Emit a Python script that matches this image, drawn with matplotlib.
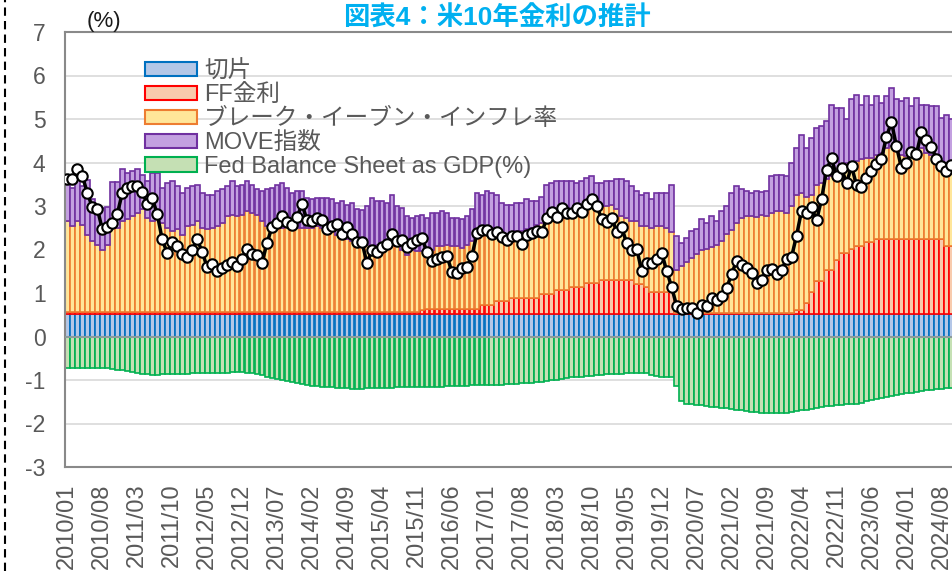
import numpy as np
import pandas as pd
import matplotlib
matplotlib.use('Agg')
import matplotlib.pyplot as plt
from matplotlib.patches import Patch
from matplotlib.lines import Line2D

plt.rcParams['font.family'] = ['Liberation Sans', 'Noto Sans CJK JP']
plt.rcParams['axes.unicode_minus'] = False

#############
# Data
#############
months = pd.period_range('2010-01', '2024-10', freq='M').strftime('%Y/%m').tolist()

# intercept (constant contribution)
intercept = 0.51

# FF rate contribution
ff = [
    0.05, 0.05, 0.05, 0.05, 0.05, 0.05, 0.05, 0.05, 0.05, 0.05, 0.05, 0.05,  # 2010
    0.05, 0.05, 0.05, 0.05, 0.05, 0.05, 0.05, 0.05, 0.05, 0.05, 0.05, 0.05,  # 2011
    0.05, 0.05, 0.05, 0.05, 0.05, 0.05, 0.05, 0.05, 0.05, 0.05, 0.05, 0.05,  # 2012
    0.05, 0.05, 0.05, 0.05, 0.05, 0.05, 0.05, 0.05, 0.05, 0.05, 0.05, 0.05,  # 2013
    0.05, 0.05, 0.05, 0.05, 0.05, 0.05, 0.05, 0.05, 0.05, 0.05, 0.05, 0.05,  # 2014
    0.05, 0.05, 0.05, 0.05, 0.05, 0.05, 0.05, 0.05, 0.05, 0.05, 0.05, 0.11,  # 2015
    0.12, 0.12, 0.12, 0.12, 0.12, 0.12, 0.12, 0.12, 0.12, 0.12, 0.12, 0.21,  # 2016
    0.21, 0.21, 0.30, 0.30, 0.30, 0.38, 0.38, 0.38, 0.38, 0.38, 0.38, 0.46,  # 2017
    0.46, 0.46, 0.55, 0.56, 0.56, 0.62, 0.62, 0.62, 0.71, 0.72, 0.72, 0.78,  # 2018
    0.78, 0.78, 0.78, 0.78, 0.78, 0.78, 0.70, 0.70, 0.62, 0.51, 0.51, 0.51,  # 2019
    0.51, 0.52, 0.03, 0.03, 0.03, 0.03, 0.03, 0.03, 0.03, 0.03, 0.03, 0.03,  # 2020
    0.03, 0.03, 0.03, 0.03, 0.03, 0.03, 0.03, 0.03, 0.03, 0.03, 0.03, 0.03,  # 2021
    0.03, 0.03, 0.11, 0.11, 0.27, 0.52, 0.76, 0.76, 1.01, 1.01, 1.25, 1.42,  # 2022
    1.42, 1.50, 1.58, 1.58, 1.66, 1.66, 1.74, 1.74, 1.74, 1.74, 1.74, 1.74,  # 2023
    1.74, 1.74, 1.74, 1.74, 1.74, 1.74, 1.74, 1.74, 1.58, 1.58,              # 2024
]

# break-even inflation contribution
bei = [
    2.09, 1.98, 2.09, 2.01, 1.78, 1.64, 1.54, 1.44, 1.54, 1.94, 1.94, 2.09,
    2.13, 2.21, 2.28, 2.36, 2.17, 2.09, 2.13, 2.05, 1.94, 1.86, 1.90, 1.78,
    1.98, 2.01, 2.09, 1.94, 1.90, 1.94, 1.98, 2.05, 2.21, 2.24, 2.21, 2.24,
    2.32, 2.28, 2.24, 2.09, 1.98, 1.86, 1.94, 1.94, 1.98, 1.94, 1.94, 1.94,
    1.94, 1.94, 1.98, 1.94, 1.86, 1.86, 1.78, 1.75, 1.67, 1.63, 1.57, 1.63,
    1.55, 1.52, 1.55, 1.59, 1.63, 1.59, 1.52, 1.44, 1.32, 1.44, 1.40, 1.34,
    1.33, 1.37, 1.45, 1.45, 1.48, 1.45, 1.45, 1.41, 1.48, 1.56, 1.79, 1.74,
    1.74, 1.78, 1.65, 1.61, 1.53, 1.45, 1.53, 1.53, 1.57, 1.61, 1.68, 1.64,
    1.80, 1.83, 1.78, 1.77, 1.77, 1.75, 1.79, 1.79, 1.74, 1.76, 1.69, 1.70,
    1.70, 1.74, 1.63, 1.48, 1.44, 1.36, 1.44, 1.33, 1.41, 1.48, 1.53, 1.53,
    1.48, 1.37, 0.98, 1.08, 1.18, 1.26, 1.36, 1.44, 1.48, 1.52, 1.56, 1.66,
    1.81, 1.91, 2.08, 2.18, 2.23, 2.23, 2.21, 2.26, 2.24, 2.31, 2.34, 2.34,
    2.31, 2.46, 2.64, 2.68, 2.42, 2.22, 2.22, 2.26, 2.09, 2.16, 2.08, 1.99,
    2.07, 1.99, 1.94, 1.98, 1.94, 1.94, 1.93, 1.97, 2.09, 2.12, 2.01, 1.93,
    1.90, 1.97, 2.01, 2.09, 1.97, 1.93, 1.86, 1.78, 1.83, 1.67,
]

# MOVE index contribution
move = [
    0.96, 0.88, 0.99, 0.89, 1.26, 0.95, 0.90, 0.95, 0.87, 1.05, 1.05, 1.19,
    1.07, 1.03, 1.00, 0.80, 0.84, 1.11, 1.07, 0.81, 1.03, 1.15, 1.00, 0.96,
    0.88, 0.89, 0.84, 0.80, 0.80, 0.76, 0.80, 0.77, 0.69, 0.77, 0.69, 0.69,
    0.69, 0.65, 0.58, 0.69, 0.84, 1.00, 0.99, 1.03, 0.88, 0.80, 0.84, 0.84,
    0.69, 0.65, 0.65, 0.69, 0.77, 0.73, 0.73, 0.80, 0.80, 0.88, 0.79, 0.71,
    0.88, 1.11, 1.00, 0.96, 0.88, 1.11, 0.91, 0.96, 0.89, 0.73, 0.81, 0.84,
    0.77, 0.84, 0.76, 0.80, 0.73, 0.65, 0.65, 0.65, 0.66, 0.73, 0.88, 0.80,
    0.88, 0.80, 0.80, 0.65, 0.69, 0.69, 0.65, 0.65, 0.69, 0.61, 0.54, 0.59,
    0.72, 0.73, 0.73, 0.73, 0.73, 0.69, 0.61, 0.65, 0.68, 0.69, 0.61, 0.54,
    0.58, 0.54, 0.69, 0.84, 0.84, 0.80, 0.70, 0.71, 0.76, 0.65, 0.75, 0.75,
    0.80, 1.09, 0.79, 0.54, 0.55, 0.62, 0.56, 0.71, 0.59, 0.71, 0.55, 0.68,
    0.64, 0.85, 0.84, 0.68, 0.58, 0.53, 0.60, 0.52, 0.57, 0.83, 0.84, 0.84,
    0.83, 0.99, 1.08, 1.34, 1.14, 1.32, 1.31, 1.31, 1.34, 1.65, 1.42, 1.34,
    0.99, 1.45, 1.53, 1.26, 1.41, 1.22, 1.34, 1.15, 1.18, 1.34, 1.19, 1.23,
    1.34, 1.07, 1.23, 0.99, 1.11, 1.11, 1.18, 1.00, 1.18, 1.24,
]

# Fed balance sheet / GDP contribution (negative)
fed_bs = [
    -0.72, -0.72, -0.72, -0.73, -0.73, -0.73, -0.72, -0.72, -0.73, -0.74, -0.76, -0.78,
    -0.80, -0.82, -0.84, -0.86, -0.87, -0.88, -0.88, -0.87, -0.87, -0.86, -0.87, -0.86,
    -0.86, -0.85, -0.85, -0.85, -0.84, -0.84, -0.84, -0.83, -0.83, -0.82, -0.82, -0.82,
    -0.83, -0.85, -0.87, -0.89, -0.92, -0.95, -0.98, -1.00, -1.02, -1.05, -1.07, -1.09,
    -1.11, -1.13, -1.14, -1.15, -1.16, -1.17, -1.18, -1.19, -1.19, -1.20, -1.20, -1.20,
    -1.19, -1.19, -1.18, -1.18, -1.18, -1.18, -1.17, -1.17, -1.16, -1.16, -1.16, -1.16,
    -1.16, -1.15, -1.15, -1.15, -1.14, -1.14, -1.13, -1.13, -1.13, -1.12, -1.12, -1.12,
    -1.11, -1.11, -1.11, -1.11, -1.10, -1.10, -1.09, -1.08, -1.07, -1.06, -1.05, -1.04,
    -1.02, -1.01, -0.99, -0.97, -0.96, -0.94, -0.93, -0.92, -0.91, -0.90, -0.89, -0.88,
    -0.87, -0.87, -0.86, -0.86, -0.85, -0.84, -0.84, -0.83, -0.83, -0.88, -0.90, -0.92,
    -0.93, -0.94, -1.14, -1.49, -1.55, -1.56, -1.57, -1.58, -1.60, -1.62, -1.63, -1.64,
    -1.65, -1.67, -1.68, -1.70, -1.72, -1.73, -1.74, -1.75, -1.75, -1.76, -1.76, -1.76,
    -1.75, -1.74, -1.72, -1.70, -1.68, -1.66, -1.64, -1.62, -1.60, -1.59, -1.58, -1.57,
    -1.56, -1.55, -1.55, -1.52, -1.49, -1.46, -1.43, -1.41, -1.39, -1.37, -1.35, -1.33,
    -1.31, -1.30, -1.28, -1.26, -1.24, -1.22, -1.21, -1.20, -1.19, -1.18,
]

# actual US 10y yield (month end)
ust10 = [
    3.63, 3.61, 3.84, 3.69, 3.31, 2.97, 2.94, 2.47, 2.52, 2.60, 2.81, 3.30,
    3.42, 3.46, 3.47, 3.32, 3.05, 3.18, 2.82, 2.23, 1.92, 2.17, 2.08, 1.89,
    1.83, 1.98, 2.23, 1.95, 1.59, 1.67, 1.51, 1.57, 1.65, 1.72, 1.62, 1.78,
    2.02, 1.89, 1.87, 1.70, 2.16, 2.52, 2.60, 2.78, 2.64, 2.57, 2.75, 3.04,
    2.67, 2.66, 2.73, 2.67, 2.48, 2.53, 2.58, 2.35, 2.52, 2.35, 2.18, 2.17,
    1.68, 2.00, 1.94, 2.05, 2.12, 2.35, 2.20, 2.22, 2.06, 2.16, 2.21, 2.27,
    1.94, 1.74, 1.78, 1.83, 1.85, 1.49, 1.46, 1.58, 1.60, 1.84, 2.37, 2.45,
    2.45, 2.36, 2.40, 2.29, 2.21, 2.31, 2.30, 2.12, 2.33, 2.38, 2.42, 2.40,
    2.72, 2.87, 2.74, 2.95, 2.83, 2.85, 2.96, 2.86, 3.05, 3.15, 3.01, 2.69,
    2.63, 2.73, 2.41, 2.51, 2.14, 2.00, 2.02, 1.50, 1.68, 1.69, 1.78, 1.92,
    1.51, 1.13, 0.70, 0.64, 0.65, 0.66, 0.55, 0.72, 0.69, 0.88, 0.84, 0.93,
    1.11, 1.44, 1.74, 1.65, 1.58, 1.45, 1.24, 1.31, 1.52, 1.55, 1.43, 1.52,
    1.79, 1.83, 2.32, 2.89, 2.85, 2.98, 2.67, 3.15, 3.83, 4.10, 3.68, 3.88,
    3.52, 3.92, 3.48, 3.44, 3.64, 3.81, 3.97, 4.09, 4.59, 4.93, 4.37, 3.88,
    3.99, 4.25, 4.20, 4.69, 4.51, 4.36, 4.09, 3.91, 3.81, 3.95,
]

labels = ['切片', 'FF金利', 'ブレーク・イーブン・インフレ率', 'MOVE指数',
          'Fed Balance Sheet as GDP(%)']
fills = ['#b4c7e7', '#f8cbad', '#ffe699', '#c3a0e0', '#c5e0b4']
edges = ['#0070c0', '#ff0000', '#ed7d31', '#7030a0', '#00b050']
ytick_labels = ['-3', '-2', '-1', '0', '1', '2', '3', '4', '5', '6', '7']

#############
# Plot
#############
x = np.arange(len(months))
ff_a = np.array(ff)
bei_a = np.array(bei)
move_a = np.array(move)

fig = plt.figure(figsize=(9.53, 5.71), dpi=100)
ax = fig.add_axes([65 / 953, 104 / 571, 891.4 / 953, 435 / 571])

bw = 0.95
lw = 1.2
ax.bar(x, intercept, width=bw, color=fills[0], edgecolor=edges[0], linewidth=lw, zorder=2)
ax.bar(x, ff_a, bottom=intercept, width=bw, color=fills[1], edgecolor=edges[1], linewidth=lw, zorder=2)
ax.bar(x, bei_a, bottom=intercept + ff_a, width=bw, color=fills[2], edgecolor=edges[2], linewidth=lw, zorder=2)
ax.bar(x, move_a, bottom=intercept + ff_a + bei_a, width=bw, color=fills[3], edgecolor=edges[3], linewidth=lw, zorder=2)
ax.bar(x, fed_bs, width=bw, color=fills[4], edgecolor=edges[4], linewidth=lw, zorder=2)

ax.axhline(0, color='#8c9c9c', lw=1.5, zorder=3)

ax.plot(x, ust10, color='black', lw=2.5, marker='o', ms=7.5,
        mfc='white', mec='black', mew=1.5, zorder=5)

ax.set_xlim(-0.46, 178.0)
ax.set_ylim(-3, 7)
ax.set_yticks(range(-3, 8))
ax.set_yticklabels(ytick_labels)
ax.set_xticks(x[::7])
ax.set_xticklabels(months[::7], rotation=90, va='top', ha='center')
ax.grid(axis='y', color='#d9d9d9', lw=1.2, zorder=0)
ax.set_axisbelow(True)
ax.tick_params(axis='y', length=0, pad=14, labelsize=16.5, labelcolor='#595959')
ax.tick_params(axis='x', length=0, pad=12, labelsize=17, labelcolor='#595959')
for s in ['left', 'top', 'bottom']:
    ax.spines[s].set_color('#898989')
    ax.spines[s].set_linewidth(1.5)
ax.spines['right'].set_visible(False)

handles = [Patch(facecolor=f, edgecolor=e, linewidth=1.5) for f, e in zip(fills, edges)]
ax.legend(handles, labels, loc='upper left', bbox_to_anchor=(145 / 953, 1 - 60 / 571),
          bbox_transform=fig.transFigure, frameon=False, fontsize=17,
          handlelength=2.2, handleheight=0.55, handletextpad=0.3,
          labelspacing=0.08, borderpad=0, borderaxespad=0, labelcolor='#595959')

fig.text(497 / 953, 1 - 18 / 571, '図表4：米10年金利の推計', ha='center', va='center',
         fontsize=19, fontweight='bold', color='#00b0f0')
fig.text(104 / 953, 1 - 22 / 571, '(%)', ha='center', va='center', fontsize=16, color='#1a1a1a')

fig.add_artist(Line2D([4.5 / 953, 4.5 / 953], [0, 1], transform=fig.transFigure,
                      color='black', lw=1.5, ls=(0, (4, 2.5))))

fig.savefig('out.png', dpi=100)
